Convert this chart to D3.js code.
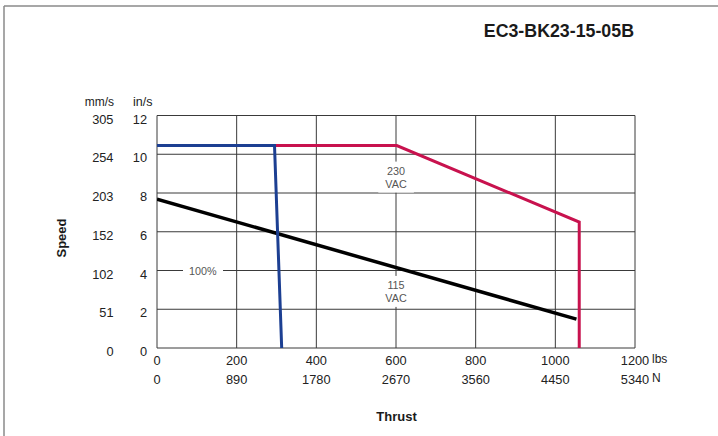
<!DOCTYPE html>
<html>
<head>
<meta charset="utf-8">
<script src="https://cdn.jsdelivr.net/npm/d3@7"></script>
<style>
  html, body { margin: 0; padding: 0; background: #fff; }
  svg { display: block; font-family: "Liberation Sans", Arial, sans-serif; }
</style>
</head>
<body>
<svg id="chart" width="718" height="436"></svg>
<script>
// ---- data ----
const title = "EC3-BK23-15-05B";
const xTicksLbs = [0, 200, 400, 600, 800, 1000, 1200];
const xTicksN = ["0", "890", "1780", "2670", "3560", "4450", "5340"];
const yTicksIn = [0, 2, 4, 6, 8, 10, 12];
const yTicksMm = ["0", "51", "102", "152", "203", "254", "305"];
// curves: [thrust lbs, speed in/s]
const blueCurve = [[0, 10.45], [295, 10.45], [313, 0]];
const redCurve = [[295, 10.45], [602, 10.45], [1060, 6.5], [1060, 0]];
const blackCurve = [[0, 7.68], [1053, 1.49]];
const annotations = [
  { x: 600, y: 8.95, lines: ["230", "VAC"] },
  { x: 600, y: 3.05, lines: ["115", "VAC"] }
];
const pctLabel = { x: 115, y: 4, text: "100%" };

// ---- layout ----
const svg = d3.select("#chart");
const x = d3.scaleLinear().domain([0, 1200]).range([157, 635]);
const y = d3.scaleLinear().domain([0, 12]).range([348, 115.5]);

// outer frame (top + left)
svg.append("line").attr("x1", 4).attr("x2", 718).attr("y1", 6).attr("y2", 6)
  .attr("stroke", "#8a8a8a").attr("stroke-width", 1.5);
svg.append("line").attr("x1", 4).attr("x2", 4).attr("y1", 6).attr("y2", 436)
  .attr("stroke", "#8a8a8a").attr("stroke-width", 1.5);

// title
svg.append("text").attr("x", 634).attr("y", 37).attr("text-anchor", "end")
  .attr("font-size", 17.8).attr("font-weight", "bold").attr("fill", "#1a1a1a")
  .text(title);

// grid
const grid = svg.append("g");
grid.selectAll(".vg").data(xTicksLbs).join("line")
  .attr("x1", d => x(d)).attr("x2", d => x(d))
  .attr("y1", y(0)).attr("y2", y(12))
  .attr("stroke", "#3a3a3a").attr("stroke-width", 1);
grid.selectAll(".hg").data(yTicksIn).join("line")
  .attr("x1", x(0)).attr("x2", x(1200))
  .attr("y1", d => y(d)).attr("y2", d => y(d))
  .attr("stroke", "#3a3a3a").attr("stroke-width", 1);

// y tick labels
svg.selectAll(".yin").data(yTicksIn).join("text")
  .attr("x", 147).attr("y", d => y(d) + 8).attr("text-anchor", "end")
  .attr("font-size", 12.8).attr("fill", "#222").text(d => d);
svg.selectAll(".ymm").data(yTicksIn).join("text")
  .attr("x", 113.5).attr("y", d => y(d) + 8).attr("text-anchor", "end")
  .attr("font-size", 12.8).attr("fill", "#222").text((d, i) => yTicksMm[i]);
svg.append("text").attr("x", 114).attr("y", 106).attr("text-anchor", "end")
  .attr("font-size", 12).attr("fill", "#222").text("mm/s");
svg.append("text").attr("x", 133).attr("y", 106)
  .attr("font-size", 12.5).attr("fill", "#222").text("in/s");
svg.append("text").attr("transform", "translate(66,238) rotate(-90)")
  .attr("text-anchor", "middle").attr("font-size", 13).attr("font-weight", "bold")
  .attr("fill", "#1a1a1a").text("Speed");

// x tick labels
svg.selectAll(".xl").data(xTicksLbs).join("text")
  .attr("x", d => x(d)).attr("y", 364.5).attr("text-anchor", "middle")
  .attr("font-size", 12.8).attr("fill", "#222").text(d => d);
svg.selectAll(".xn").data(xTicksLbs).join("text")
  .attr("x", d => x(d)).attr("y", 384).attr("text-anchor", "middle")
  .attr("font-size", 12.8).attr("fill", "#222").text((d, i) => xTicksN[i]);
svg.append("text").attr("x", 652).attr("y", 362.5)
  .attr("font-size", 12).attr("fill", "#222").text("lbs");
svg.append("text").attr("x", 652).attr("y", 381.5)
  .attr("font-size", 12).attr("fill", "#222").text("N");
svg.append("text").attr("x", 396.5).attr("y", 421).attr("text-anchor", "middle")
  .attr("font-size", 13).attr("font-weight", "bold").attr("fill", "#1a1a1a").text("Thrust");

// annotations with white backgrounds
annotations.forEach(a => {
  const g = svg.append("g");
  const rect = g.append("rect").attr("fill", "#fff");
  const t = g.append("text").attr("text-anchor", "middle").attr("font-size", 10.8)
    .attr("fill", "#555");
  a.lines.forEach((l, i) => {
    t.append("tspan").attr("x", x(a.x)).attr("y", y(a.y) + i * 13).text(l);
  });
  const bb = t.node().getBBox();
  rect.attr("x", bb.x - 7).attr("y", bb.y - 3).attr("width", bb.width + 14).attr("height", bb.height + 6);
});
{
  const g = svg.append("g");
  const rect = g.append("rect").attr("fill", "#fff");
  const t = g.append("text").attr("x", x(pctLabel.x)).attr("y", y(pctLabel.y) + 4)
    .attr("text-anchor", "middle").attr("font-size", 10.8).attr("fill", "#555").text(pctLabel.text);
  const bb = t.node().getBBox();
  rect.attr("x", bb.x - 6).attr("y", bb.y - 1).attr("width", bb.width + 12).attr("height", bb.height + 2);
}

// curves
const clip = svg.append("clipPath").attr("id", "plotclip").append("rect")
  .attr("x", x(0)).attr("y", y(12)).attr("width", x(1200) - x(0)).attr("height", y(0) - y(12));
const line = d3.line().x(d => x(d[0])).y(d => y(d[1]));
const curves = svg.append("g").attr("clip-path", "url(#plotclip)");
curves.append("path").attr("d", line(blackCurve)).attr("fill", "none")
  .attr("stroke", "#000").attr("stroke-width", 3.5);
curves.append("path").attr("d", line(redCurve)).attr("fill", "none")
  .attr("stroke", "#c8124e").attr("stroke-width", 3).attr("stroke-linejoin", "miter");
curves.append("path").attr("d", line(blueCurve)).attr("fill", "none")
  .attr("stroke", "#1c3f92").attr("stroke-width", 3).attr("stroke-linejoin", "miter");
</script>
</body>
</html>
